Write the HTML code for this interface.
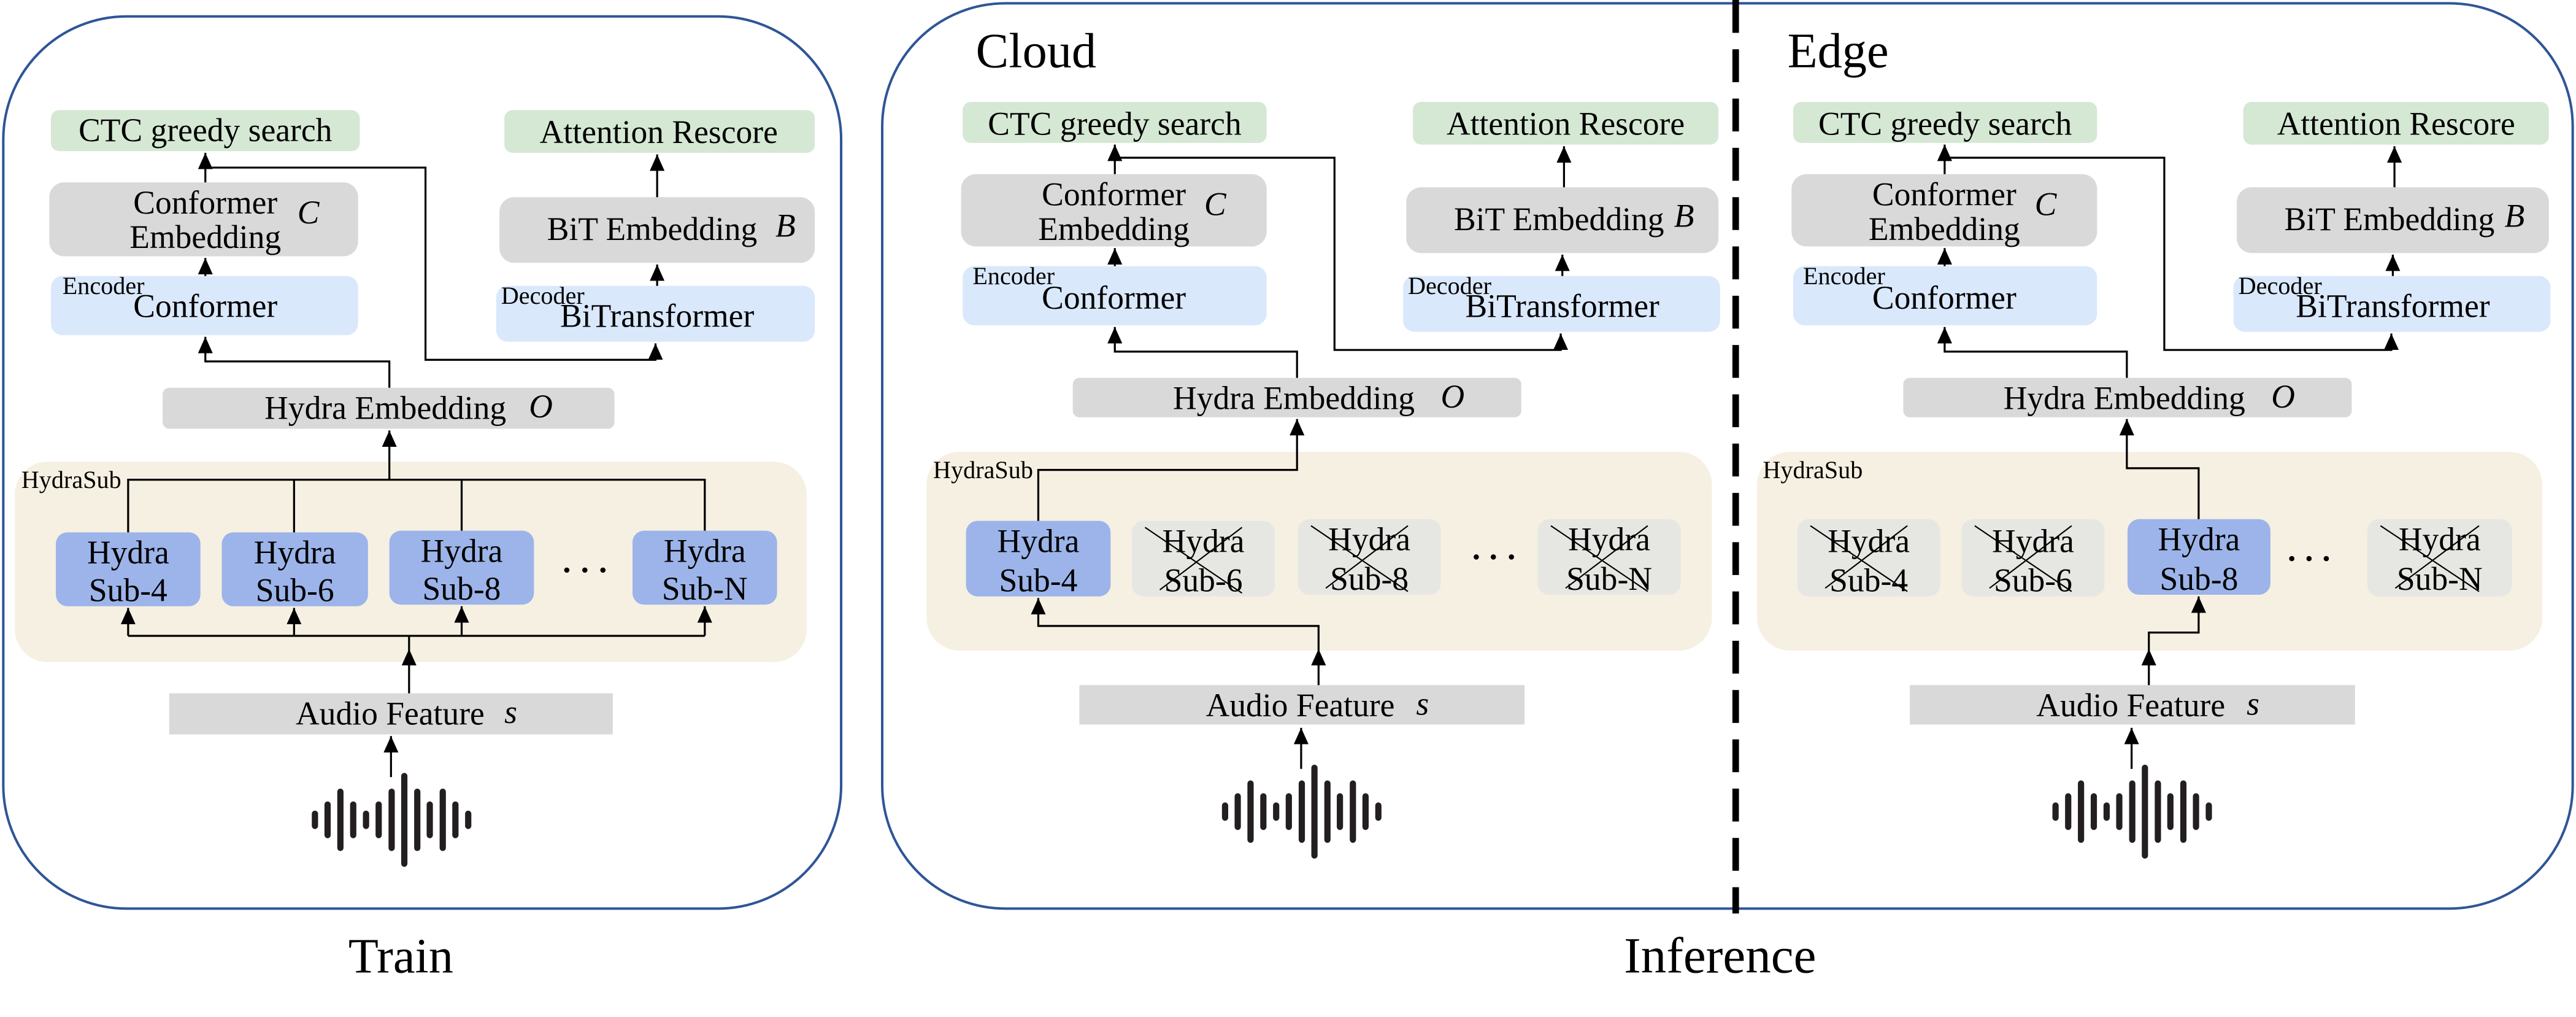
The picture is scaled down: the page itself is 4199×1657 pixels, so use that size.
<!DOCTYPE html>
<html><head><meta charset="utf-8"><style>
html,body{margin:0;padding:0;background:#fff;}
svg{display:block;}
text,.m,.s,.i,.c{font-family:"Liberation Serif","DejaVu Serif",serif;fill:#000;}
.m{font-size:20px;font-family:"Liberation Serif",serif;}
.s{font-size:15px;font-family:"Liberation Serif",serif;}
.i{font-size:20px;font-style:italic;font-family:"Liberation Serif",serif;}
.c{text-anchor:middle;}
.ln{stroke:#000;stroke-width:1.2;fill:none;}
.x{stroke:#000;stroke-width:0.8;}
</style></head><body>
<svg width="4199" height="1657" viewBox="0 0 1568 619" preserveAspectRatio="none" xmlns="http://www.w3.org/2000/svg" font-family="Liberation Serif, serif">
<defs><marker id="a" markerWidth="9" markerHeight="10" refX="10" refY="4.5" orient="auto" markerUnits="userSpaceOnUse"><path d="M0,0L10,4.5L0,9z" fill="#000"/></marker></defs>

<rect x="2" y="10" width="510" height="543" rx="75" fill="none" stroke="#2f5597" stroke-width="1.5"/>
<rect x="537" y="2" width="1029" height="551" rx="75" fill="none" stroke="#2f5597" stroke-width="1.5"/>
<line x1="1056.5" y1="0" x2="1056.5" y2="556" stroke="#000" stroke-width="4" stroke-dasharray="20 10"/>
<text x="244" y="592" text-anchor="middle" font-family="Liberation Serif, serif" style="font-size:30px">Train</text>
<text x="1047" y="592" text-anchor="middle" font-family="Liberation Serif, serif" style="font-size:31px">Inference</text>

<g font-family="Liberation Serif, serif">
<!-- ===== TRAIN ===== -->
<rect x="31" y="67" width="188" height="25" rx="5" fill="#d5e8d4"/>
<text x="125" y="86" class="m c">CTC greedy search</text>
<rect x="307" y="67" width="189" height="26" rx="5" fill="#d5e8d4"/>
<text x="401" y="87" class="m c">Attention Rescore</text>
<rect x="30" y="111" width="188" height="45" rx="9" fill="#d9d9d9"/>
<text x="125" y="130" class="m c">Conformer</text>
<text x="125" y="151" class="m c">Embedding</text>
<text x="181" y="136" class="i">C</text>
<rect x="304" y="120" width="192" height="40" rx="9" fill="#d9d9d9"/>
<text x="333" y="146" class="m">BiT Embedding</text>
<text x="472" y="144" class="i">B</text>
<rect x="31" y="168" width="187" height="36" rx="7" fill="#dae8fc"/>
<text x="125" y="193" class="m c">Conformer</text>
<text x="38" y="179" class="s">Encoder</text>
<rect x="302" y="174" width="194" height="34" rx="7" fill="#dae8fc"/>
<text x="400" y="199" class="m c">BiTransformer</text>
<text x="305" y="185" class="s">Decoder</text>
<rect x="99" y="236" width="275" height="25" rx="4" fill="#d9d9d9"/>
<text x="161" y="255" class="m">Hydra Embedding</text>
<text x="322" y="254" class="i">O</text>
<rect x="9" y="281" width="482" height="122" rx="20" fill="#f6f0e2"/>
<text x="13" y="297" class="s">HydraSub</text>
<rect x="34" y="324" width="88" height="45" rx="7" fill="#9cb4e9"/>
<text x="78" y="343" class="m c">Hydra</text><text x="78" y="366" class="m c">Sub-4</text>
<rect x="135" y="324" width="89" height="45" rx="7" fill="#9cb4e9"/>
<text x="179.5" y="343" class="m c">Hydra</text><text x="179.5" y="366" class="m c">Sub-6</text>
<rect x="237" y="323" width="88" height="45" rx="7" fill="#9cb4e9"/>
<text x="281" y="342" class="m c">Hydra</text><text x="281" y="365" class="m c">Sub-8</text>
<rect x="385" y="323" width="88" height="45" rx="7" fill="#9cb4e9"/>
<text x="429" y="342" class="m c">Hydra</text><text x="429" y="365" class="m c">Sub-N</text>
<circle cx="345" cy="347" r="1.6"/><circle cx="356" cy="347" r="1.6"/><circle cx="367" cy="347" r="1.6"/>
<rect x="103" y="422" width="270" height="25" fill="#d9d9d9"/>
<text x="180" y="441" class="m">Audio Feature</text>
<text x="307" y="440" class="i">s</text>

<path class="ln" d="M237,236V220H125V205" marker-end="url(#a)"/>
<path class="ln" d="M125,111V93" marker-end="url(#a)"/>
<path class="ln" d="M125,102H259V219H399V209" marker-end="url(#a)"/>
<path class="ln" d="M125,168V157" marker-end="url(#a)"/>
<path class="ln" d="M400,174V161" marker-end="url(#a)"/>
<path class="ln" d="M400,120V94" marker-end="url(#a)"/>
<path class="ln" d="M78,324V292H429V323M179,292V324M281,292V323"/>
<path class="ln" d="M237,292V262" marker-end="url(#a)"/>
<path class="ln" d="M78,387H429M249,422V387"/>
<path class="ln" d="M78,387V370" marker-end="url(#a)"/>
<path class="ln" d="M179,387V370" marker-end="url(#a)"/>
<path class="ln" d="M281,387V369" marker-end="url(#a)"/>
<path class="ln" d="M429,387V369" marker-end="url(#a)"/>
<path d="M244.5,405L253.5,405L249,395z"/>
<path class="ln" d="M238,473V448" marker-end="url(#a)"/>
<g fill="#231f20">
<rect x="189.8" y="493.4" width="3.8" height="11.2" rx="1.9"/>
<rect x="197.5" y="487.8" width="3.8" height="22.4" rx="1.9"/>
<rect x="205.3" y="480" width="3.8" height="38" rx="1.9"/>
<rect x="213.1" y="487.8" width="3.8" height="22.4" rx="1.9"/>
<rect x="220.9" y="493.4" width="3.8" height="11.2" rx="1.9"/>
<rect x="228.6" y="487.8" width="3.8" height="22.4" rx="1.9"/>
<rect x="236.5" y="480" width="3.8" height="38" rx="1.9"/>
<rect x="244.2" y="470.4" width="3.8" height="57.2" rx="1.9"/>
<rect x="252.1" y="480" width="3.8" height="38" rx="1.9"/>
<rect x="259.7" y="487.8" width="3.8" height="22.4" rx="1.9"/>
<rect x="267.6" y="480" width="3.8" height="38" rx="1.9"/>
<rect x="275.3" y="487.8" width="3.8" height="22.4" rx="1.9"/>
<rect x="283.1" y="493.4" width="3.8" height="11.2" rx="1.9"/>
</g>

<!-- ===== CLOUD ===== -->
<text x="594" y="41" style="font-size:30px">Cloud</text>
<rect x="586" y="62" width="185" height="25" rx="5" fill="#d5e8d4"/>
<text x="678.5" y="82" class="m c">CTC greedy search</text>
<rect x="860" y="62" width="186" height="26" rx="5" fill="#d5e8d4"/>
<text x="953" y="82" class="m c">Attention Rescore</text>
<rect x="585" y="106" width="186" height="44" rx="9" fill="#d9d9d9"/>
<text x="678" y="125" class="m c">Conformer</text>
<text x="678" y="146" class="m c">Embedding</text>
<text x="733" y="131" class="i">C</text>
<rect x="856" y="114" width="190" height="40" rx="9" fill="#d9d9d9"/>
<text x="885" y="140" class="m">BiT Embedding</text>
<text x="1019" y="138" class="i">B</text>
<rect x="586" y="162" width="185" height="36" rx="7" fill="#dae8fc"/>
<text x="678" y="188" class="m c">Conformer</text>
<text x="592" y="173" class="s">Encoder</text>
<rect x="854" y="168" width="193" height="34" rx="7" fill="#dae8fc"/>
<text x="951" y="193" class="m c">BiTransformer</text>
<text x="857" y="179" class="s">Decoder</text>
<rect x="653" y="230" width="273" height="24" rx="4" fill="#d9d9d9"/>
<text x="714" y="249" class="m">Hydra Embedding</text>
<text x="877" y="248" class="i">O</text>
<rect x="564" y="275" width="478" height="121" rx="20" fill="#f6f0e2"/>
<text x="568" y="291" class="s">HydraSub</text>
<rect x="588" y="317" width="88" height="46" rx="7" fill="#9cb4e9"/>
<text x="632" y="336" class="m c">Hydra</text><text x="632" y="360" class="m c">Sub-4</text>
<rect x="689" y="317" width="87" height="46" rx="7" fill="#e6e6e2"/>
<text x="732.5" y="336" class="m c">Hydra</text><text x="732.5" y="360" class="m c">Sub-6</text>
<line class="x" x1="697" y1="321" x2="756" y2="361"/><line class="x" x1="756" y1="321" x2="706" y2="359"/>
<rect x="790" y="316" width="87" height="46" rx="7" fill="#e6e6e2"/>
<text x="833.5" y="335" class="m c">Hydra</text><text x="833.5" y="359" class="m c">Sub-8</text>
<line class="x" x1="798" y1="320" x2="857" y2="360"/><line class="x" x1="857" y1="320" x2="807" y2="358"/>
<rect x="936" y="316" width="87" height="46" rx="7" fill="#e6e6e2"/>
<text x="979.5" y="335" class="m c">Hydra</text><text x="979.5" y="359" class="m c">Sub-N</text>
<line class="x" x1="944" y1="320" x2="1003" y2="360"/><line class="x" x1="1003" y1="320" x2="953" y2="358"/>
<circle cx="898.6" cy="339" r="1.6"/><circle cx="909" cy="339" r="1.6"/><circle cx="920" cy="339" r="1.6"/>
<rect x="657" y="417" width="271" height="24" fill="#d9d9d9"/>
<text x="734" y="436" class="m">Audio Feature</text>
<text x="862" y="435" class="i">s</text>

<path class="ln" d="M789.5,230V214H678.6V199" marker-end="url(#a)"/>
<path class="ln" d="M678.6,106V88" marker-end="url(#a)"/>
<path class="ln" d="M678.6,96H812.3V213H950V203" marker-end="url(#a)"/>
<path class="ln" d="M678.6,162V151" marker-end="url(#a)"/>
<path class="ln" d="M951,168V155" marker-end="url(#a)"/>
<path class="ln" d="M952,114V89" marker-end="url(#a)"/>
<path class="ln" d="M632,317V286H789.5V255" marker-end="url(#a)"/>
<path class="ln" d="M802.6,417V381H632V364" marker-end="url(#a)"/>
<path d="M798.1,405L807.1,405L802.6,395z"/>
<path class="ln" d="M792,468V443" marker-end="url(#a)"/>
<g fill="#231f20" transform="translate(554,-5)">
<rect x="189.8" y="493.4" width="3.8" height="11.2" rx="1.9"/>
<rect x="197.5" y="487.8" width="3.8" height="22.4" rx="1.9"/>
<rect x="205.3" y="480" width="3.8" height="38" rx="1.9"/>
<rect x="213.1" y="487.8" width="3.8" height="22.4" rx="1.9"/>
<rect x="220.9" y="493.4" width="3.8" height="11.2" rx="1.9"/>
<rect x="228.6" y="487.8" width="3.8" height="22.4" rx="1.9"/>
<rect x="236.5" y="480" width="3.8" height="38" rx="1.9"/>
<rect x="244.2" y="470.4" width="3.8" height="57.2" rx="1.9"/>
<rect x="252.1" y="480" width="3.8" height="38" rx="1.9"/>
<rect x="259.7" y="487.8" width="3.8" height="22.4" rx="1.9"/>
<rect x="267.6" y="480" width="3.8" height="38" rx="1.9"/>
<rect x="275.3" y="487.8" width="3.8" height="22.4" rx="1.9"/>
<rect x="283.1" y="493.4" width="3.8" height="11.2" rx="1.9"/>
</g>

<!-- ===== EDGE ===== -->
<text x="1088" y="41" style="font-size:30px">Edge</text>
<rect x="1091.5" y="62" width="185" height="25" rx="5" fill="#d5e8d4"/>
<text x="1184" y="82" class="m c">CTC greedy search</text>
<rect x="1365.5" y="62" width="186" height="26" rx="5" fill="#d5e8d4"/>
<text x="1458.5" y="82" class="m c">Attention Rescore</text>
<rect x="1090.5" y="106" width="186" height="44" rx="9" fill="#d9d9d9"/>
<text x="1183.5" y="125" class="m c">Conformer</text>
<text x="1183.5" y="146" class="m c">Embedding</text>
<text x="1238.5" y="131" class="i">C</text>
<rect x="1361.5" y="114" width="190" height="40" rx="9" fill="#d9d9d9"/>
<text x="1390.5" y="140" class="m">BiT Embedding</text>
<text x="1524.5" y="138" class="i">B</text>
<rect x="1091.5" y="162" width="185" height="36" rx="7" fill="#dae8fc"/>
<text x="1183.5" y="188" class="m c">Conformer</text>
<text x="1097.5" y="173" class="s">Encoder</text>
<rect x="1359.5" y="168" width="193" height="34" rx="7" fill="#dae8fc"/>
<text x="1456.5" y="193" class="m c">BiTransformer</text>
<text x="1362.5" y="179" class="s">Decoder</text>
<rect x="1158.5" y="230" width="273" height="24" rx="4" fill="#d9d9d9"/>
<text x="1219.5" y="249" class="m">Hydra Embedding</text>
<text x="1382.5" y="248" class="i">O</text>
<rect x="1069.5" y="275" width="478" height="121" rx="20" fill="#f6f0e2"/>
<text x="1073" y="291" class="s">HydraSub</text>
<rect x="1094" y="316" width="87" height="47" rx="7" fill="#e6e6e2"/>
<text x="1137.5" y="336" class="m c">Hydra</text><text x="1137.5" y="360" class="m c">Sub-4</text>
<line class="x" x1="1102" y1="320" x2="1161" y2="360"/><line class="x" x1="1161" y1="320" x2="1111" y2="358"/>
<rect x="1194" y="316" width="87" height="47" rx="7" fill="#e6e6e2"/>
<text x="1237.5" y="336" class="m c">Hydra</text><text x="1237.5" y="360" class="m c">Sub-6</text>
<line class="x" x1="1202" y1="320" x2="1261" y2="360"/><line class="x" x1="1261" y1="320" x2="1211" y2="358"/>
<rect x="1295" y="316" width="87" height="46" rx="7" fill="#9cb4e9"/>
<text x="1338.5" y="335" class="m c">Hydra</text><text x="1338.5" y="359" class="m c">Sub-8</text>
<rect x="1441" y="316" width="88" height="47" rx="7" fill="#e6e6e2"/>
<text x="1485" y="335" class="m c">Hydra</text><text x="1485" y="359" class="m c">Sub-N</text>
<line class="x" x1="1449" y1="320" x2="1509" y2="360"/><line class="x" x1="1509" y1="320" x2="1458" y2="358"/>
<circle cx="1395" cy="340" r="1.6"/><circle cx="1405.5" cy="340" r="1.6"/><circle cx="1416" cy="340" r="1.6"/>
<rect x="1162.5" y="417" width="271" height="24" fill="#d9d9d9"/>
<text x="1239.5" y="436" class="m">Audio Feature</text>
<text x="1367.5" y="435" class="i">s</text>

<path class="ln" d="M1294.6,230V214H1183.7V199" marker-end="url(#a)"/>
<path class="ln" d="M1183.7,106V88" marker-end="url(#a)"/>
<path class="ln" d="M1183.7,96H1317.4V213H1455.6V203" marker-end="url(#a)"/>
<path class="ln" d="M1183.7,162V151" marker-end="url(#a)"/>
<path class="ln" d="M1456.5,168V155" marker-end="url(#a)"/>
<path class="ln" d="M1457.5,114V89" marker-end="url(#a)"/>
<path class="ln" d="M1338.3,316V285H1294.6V255" marker-end="url(#a)"/>
<path class="ln" d="M1308,417V385H1338.3V363" marker-end="url(#a)"/>
<path d="M1303.5,405L1312.5,405L1308,395z"/>
<path class="ln" d="M1297.5,468V443" marker-end="url(#a)"/>
<g fill="#231f20" transform="translate(1059.5,-5)">
<rect x="189.8" y="493.4" width="3.8" height="11.2" rx="1.9"/>
<rect x="197.5" y="487.8" width="3.8" height="22.4" rx="1.9"/>
<rect x="205.3" y="480" width="3.8" height="38" rx="1.9"/>
<rect x="213.1" y="487.8" width="3.8" height="22.4" rx="1.9"/>
<rect x="220.9" y="493.4" width="3.8" height="11.2" rx="1.9"/>
<rect x="228.6" y="487.8" width="3.8" height="22.4" rx="1.9"/>
<rect x="236.5" y="480" width="3.8" height="38" rx="1.9"/>
<rect x="244.2" y="470.4" width="3.8" height="57.2" rx="1.9"/>
<rect x="252.1" y="480" width="3.8" height="38" rx="1.9"/>
<rect x="259.7" y="487.8" width="3.8" height="22.4" rx="1.9"/>
<rect x="267.6" y="480" width="3.8" height="38" rx="1.9"/>
<rect x="275.3" y="487.8" width="3.8" height="22.4" rx="1.9"/>
<rect x="283.1" y="493.4" width="3.8" height="11.2" rx="1.9"/>
</g>
</g>
</svg>
</body></html>
